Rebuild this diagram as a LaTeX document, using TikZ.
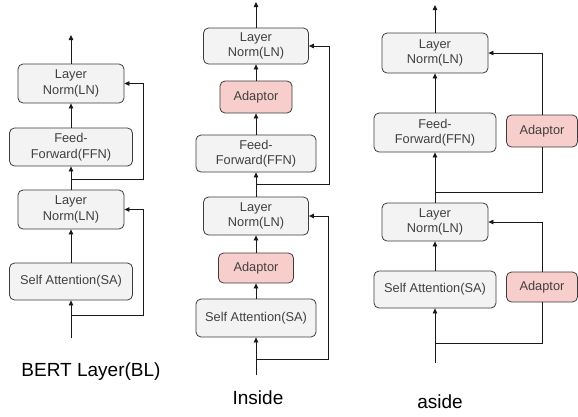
\documentclass[tikz,border=0pt]{standalone}
\usepackage{fontspec}
\setmainfont{Liberation Sans}
\usetikzlibrary{arrows.meta}
\definecolor{boxfill}{HTML}{F3F3F3}
\definecolor{boxline}{HTML}{3C3C3C}
\definecolor{adfill}{HTML}{F8CECC}
\definecolor{txt}{HTML}{404040}
\tikzset{
  blk/.style={draw=boxline, line width=0.8pt, fill=boxfill, rounded corners=5pt,
    inner sep=0pt, align=center, text=txt, font=\fontsize{12.8}{15.5}\selectfont},
  adp/.style={blk, fill=adfill},
  wire/.style={draw=black!90, line width=0.8pt},
  arr/.style={wire, -{Triangle[length=5pt,width=4.5pt]}},
  lbl/.style={font=\fontsize{19}{22}\selectfont, text=black}
}
\begin{document}
\begin{tikzpicture}[x=1pt,y=-1pt]
\useasboundingbox (0,0) rectangle (578,416);
% ---------- Panel 1: BERT Layer ----------
\node[blk, minimum width=106, minimum height=39] (LNa) at (71,83.5) {Layer\\Norm(LN)};
\node[blk, minimum width=123, minimum height=38] (FFNa) at (71,147) {Feed-\\Forward(FFN)};
\node[blk, minimum width=106, minimum height=39] (LNb) at (71,209.5) {Layer\\Norm(LN)};
\node[blk, minimum width=123, minimum height=37] (SAa) at (71,281.5) {Self Attention(SA)};
\coordinate (outa) at (71,35);
\coordinate (ina) at (71,338);
\coordinate (bra) at (71,315);
\coordinate (brb) at (71,179);
\draw[arr] (LNa.north) -- (outa);
\draw[arr] (FFNa.north) -- (LNa.south);
\draw[arr] (LNb.north) -- (FFNa.south);
\draw[arr] (SAa.north) -- (LNb.south);
\draw[arr] (ina) -- (SAa.south);
\draw[arr] (bra) -- (143,315) |- (LNb.east);
\draw[arr] (brb) -- (143,179) |- (LNa.east);
\node[lbl] (L1) at (91,372) {BERT Layer(BL)};
% ---------- Panel 2: Inside ----------
\node[blk, minimum width=105, minimum height=36] (LNc) at (256,46) {Layer\\Norm(LN)};
\node[adp, minimum width=72, minimum height=32] (ADc) at (256,97) {Adaptor};
\node[blk, minimum width=120, minimum height=37] (FFNc) at (256,153.5) {Feed-\\Forward(FFN)};
\node[blk, minimum width=105, minimum height=38] (LNd) at (256,216) {Layer\\Norm(LN)};
\node[adp, minimum width=75, minimum height=30] (ADd) at (256,268) {Adaptor};
\node[blk, minimum width=120, minimum height=38] (SAd) at (256,318) {Self Attention(SA)};
\coordinate (outc) at (256,2);
\coordinate (inc) at (256,375);
\coordinate (brc) at (256,359);
\coordinate (brd) at (256,184);
\draw[arr] (LNc.north) -- (outc);
\draw[arr] (ADc.north) -- (LNc.south);
\draw[arr] (FFNc.north) -- (ADc.south);
\draw[arr] (LNd.north) -- (FFNc.south);
\draw[arr] (ADd.north) -- (LNd.south);
\draw[arr] (SAd.north) -- (ADd.south);
\draw[arr] (inc) -- (SAd.south);
\draw[arr] (brc) -- (328,359) |- (LNd.east);
\draw[arr] (brd) -- (329,184) |- (LNc.east);
\node[lbl] (L2) at (258,398) {Inside};
% ---------- Panel 3: aside ----------
\node[blk, minimum width=106, minimum height=40] (LNe) at (435,53) {Layer\\Norm(LN)};
\node[blk, minimum width=122, minimum height=39] (FFNe) at (435,132.5) {Feed-\\Forward(FFN)};
\node[adp, minimum width=71, minimum height=32] (ADe) at (542,131) {Adaptor};
\node[blk, minimum width=106, minimum height=38] (LNf) at (435,222) {Layer\\Norm(LN)};
\node[blk, minimum width=122, minimum height=37] (SAf) at (435,289.5) {Self Attention(SA)};
\node[adp, minimum width=71, minimum height=30] (ADf) at (542,287) {Adaptor};
\coordinate (oute) at (435,5);
\coordinate (ine) at (435,363);
\coordinate (bre) at (435,343);
\coordinate (brf) at (435,192);
\draw[arr] (LNe.north) -- (oute);
\draw[arr] (FFNe.north) -- (LNe.south);
\draw[arr] (LNf.north) -- (FFNe.south);
\draw[arr] (SAf.north) -- (LNf.south);
\draw[arr] (ine) -- (SAf.south);
\draw[wire] (bre) -| (ADf.south);
\draw[arr] (ADf.north) |- (LNf.east);
\draw[wire] (brf) -| (ADe.south);
\draw[arr] (ADe.north) |- (LNe.east);
\node[lbl] (L3) at (440,402) {aside};
\end{tikzpicture}
\end{document}
